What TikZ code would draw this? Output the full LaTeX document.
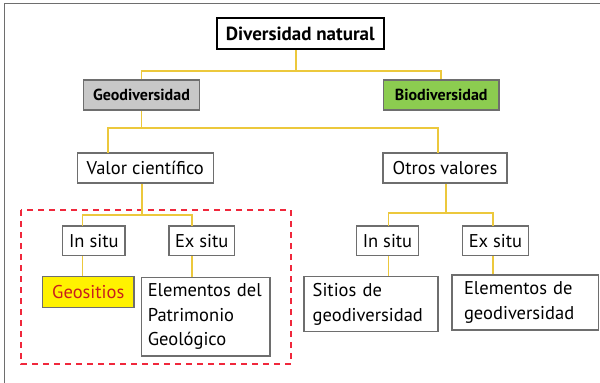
\documentclass[tikz,border=0pt]{standalone}
\usepackage{fontspec}
\setmainfont{PT Sans}
\usepackage{tikz}
\usetikzlibrary{calc, positioning}
\definecolor{linkyellow}{RGB}{236,200,60}
\definecolor{boxgray}{RGB}{110,110,110}
\definecolor{geogray}{RGB}{200,200,200}
\definecolor{biogreen}{RGB}{140,204,80}
\definecolor{sitered}{RGB}{200,30,30}
\definecolor{dashred}{RGB}{240,40,60}

\tikzset{
    box/.style={draw=boxgray, line width=1.5pt, fill=white, inner sep=0pt, font=\fontsize{18.5}{24.5}\selectfont},
    link/.style={draw=linkyellow, line width=1.8pt},
}

\begin{document}
\begin{tikzpicture}[x=1pt, y=-1pt]
                \useasboundingbox (0,0) rectangle (600,383);

                % frame
                \draw[boxgray, line width=1.3pt] (4.5,383) -- (4.5,3.5) -- (600,3.5);

                % top levels
                \node[box, draw=black, line width=2.2pt, minimum width=167pt, minimum height=31pt, font=\bfseries\fontsize{19}{22}\selectfont] (nat) at (300.3,33.7) {Diversidad natural};
                \node[box, fill=geogray, minimum width=115.6pt, minimum height=30pt, font=\bfseries\fontsize{16}{19}\selectfont] (geo) at (141.5,95) {Geodiversidad};
                \node[box, fill=biogreen, minimum width=115.6pt, minimum height=30pt, font=\bfseries\fontsize{16}{19}\selectfont] (bio) at (441.2,95) {Biodiversidad};

                % values
                \node[box, minimum width=136pt, minimum height=30pt] (valor) at (145.3,168) {Valor científico};
                \node[box, minimum width=124pt, minimum height=30pt] (otros) at (445,168) {Otros valores};

                % in situ / ex situ
                \node[box, minimum width=62.3pt, minimum height=29.5pt] (insituA) at (93.8,240.8) {In situ};
                \node[box, minimum width=65.3pt, minimum height=29.5pt] (exsituA) at (201.7,240.8) {Ex situ};
                \node[box, minimum width=61.6pt, minimum height=29.5pt] (insituB) at (387.5,240.8) {In situ};
                \node[box, minimum width=65.6pt, minimum height=29.5pt] (exsituB) at (495.5,240.8) {Ex situ};

                % leaves
                \node[box, fill=yellow, text=sitered, minimum width=91.3pt, minimum height=30.6pt] (geositios) at (88.3,292) {Geositios};
                \node[box, minimum width=128.3pt, minimum height=78.7pt, align=left, text width=116pt] (elemA) at (205.8,316.7) {Elementos del\\Patrimonio\\Geológico};
                \node[box, minimum width=134pt, minimum height=55pt, align=left, text width=116.6pt] (sitios) at (371,304.2) {Sitios de\\geodiversidad};
                \node[box, minimum width=146.3pt, minimum height=55pt, align=left, text width=122.3pt] (elemB) at (525.2,302.5) {Elementos de\\geodiversidad};

                % dashed group
                \draw[dashred, line width=2.4pt, dash pattern=on 6pt off 5pt] (21,210) rectangle (291,364);

                % bus points
                \coordinate (j1) at (296,71);
                \coordinate (j2) at (141.5,128);
                \coordinate (v1) at (107.7,153);
                \coordinate (o1) at (437.7,153);
                \coordinate (j3) at (142,215);
                \coordinate (a1) at (82.5,226);
                \coordinate (a2) at (192,226);
                \coordinate (j4) at (445.7,213.3);
                \coordinate (b1) at (388.5,226);
                \coordinate (b2) at (493,226);

                % connectors
                \draw[link] (nat.south -| j1) -- (j1);
                \draw[link] (j1) -| (geo.north);
                \draw[link] (j1) -| (bio.north);
                \draw[link] (geo.south) -- (j2);
                \draw[link] (j2) -| (v1);
                \draw[link] (j2) -| (o1);
                \draw[link] (valor.south -| j3) -- (j3);
                \draw[link] (j3) -| (a1);
                \draw[link] (j3) -| (a2);
                \draw[link] (otros.south -| j4) -- (j4);
                \draw[link] (j4) -| (b1);
                \draw[link] (j4) -| (b2);
                \draw[link] (insituA.south -| a1) -- (geositios.north -| a1);
                \draw[link] (exsituA.south -| a2) -- (elemA.north -| a2);
                \draw[link] (insituB.south -| b1) -- (sitios.north -| b1);
                \draw[link] (exsituB.south -| b2) -- (elemB.north -| b2);

            \end{tikzpicture}
\end{document}
